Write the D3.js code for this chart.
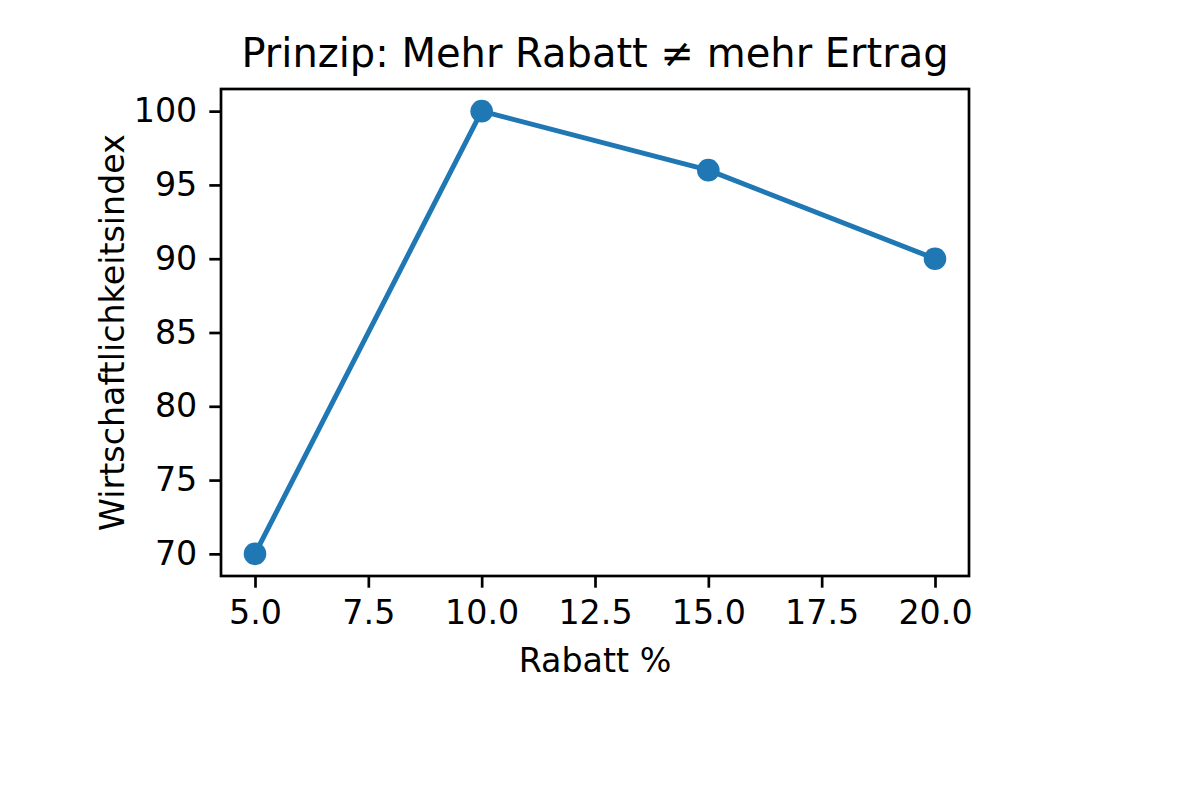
<!DOCTYPE html>
<html><head><meta charset="utf-8">
<script src="https://cdn.jsdelivr.net/npm/d3@7"></script>
<style>body{margin:0;background:#fff}svg text{font-family:"DejaVu Sans",sans-serif;fill:#000}</style>
</head><body>
<svg id="c" width="1200" height="800"></svg>
<script>
const rabatt = [5, 10, 15, 20];
const index = [70, 100, 96, 90];
const xTicks = [5, 7.5, 10, 12.5, 15, 17.5, 20];
const yTicks = [70, 75, 80, 85, 90, 95, 100];
const title = "Prinzip: Mehr Rabatt \u2260 mehr Ertrag";
const xLabel = "Rabatt %";
const yLabel = "Wirtschaftlichkeitsindex";

const svg = d3.select("#c");
const L = 221, R = 969, T = 89, B = 576;
const x = d3.scaleLinear().domain([4.25, 20.75]).range([L, R]);
const y = d3.scaleLinear().domain([68.5, 101.5]).range([B, T]);
const color = "#1f77b4";

const xa = svg.append("g").attr("transform", `translate(0,${B})`)
  .call(d3.axisBottom(x).tickValues(xTicks).tickFormat(d3.format(".1f")).tickSize(11.7).tickPadding(13));
const ya = svg.append("g").attr("transform", `translate(${L},0)`)
  .call(d3.axisLeft(y).tickValues(yTicks).tickFormat(d3.format("d")).tickSize(11.7).tickPadding(12));
[xa, ya].forEach(a => {
  a.select(".domain").remove();
  a.selectAll("line").attr("stroke", "#000").attr("stroke-width", 2.7);
  a.selectAll("text").attr("font-size", 33.3).attr("font-family", "DejaVu Sans").attr("fill", "#000");
});

svg.append("path")
  .datum(rabatt.map((r, i) => [r, index[i]]))
  .attr("fill", "none").attr("stroke", color).attr("stroke-width", 5)
  .attr("stroke-linejoin", "round").attr("stroke-linecap", "square")
  .attr("d", d3.line().x(d => x(d[0])).y(d => y(d[1])));
svg.selectAll("circle.pt").data(rabatt).enter().append("circle")
  .attr("class", "pt").attr("cx", d => x(d)).attr("cy", (d, i) => y(index[i]))
  .attr("r", 11.3).attr("fill", color);

svg.append("rect").attr("x", L).attr("y", T).attr("width", R - L).attr("height", B - T)
  .attr("fill", "none").attr("stroke", "#000").attr("stroke-width", 2.7);

svg.append("text").attr("x", (L + R) / 2).attr("y", 67).attr("text-anchor", "middle")
  .attr("font-size", 40).text(title);
svg.append("text").attr("x", (L + R) / 2).attr("y", 672).attr("text-anchor", "middle")
  .attr("font-size", 33.3).text(xLabel);
svg.append("text").attr("transform", `translate(124,${(T + B) / 2}) rotate(-90)`).attr("text-anchor", "middle")
  .attr("font-size", 33.3).text(yLabel);
</script>
</body></html>
